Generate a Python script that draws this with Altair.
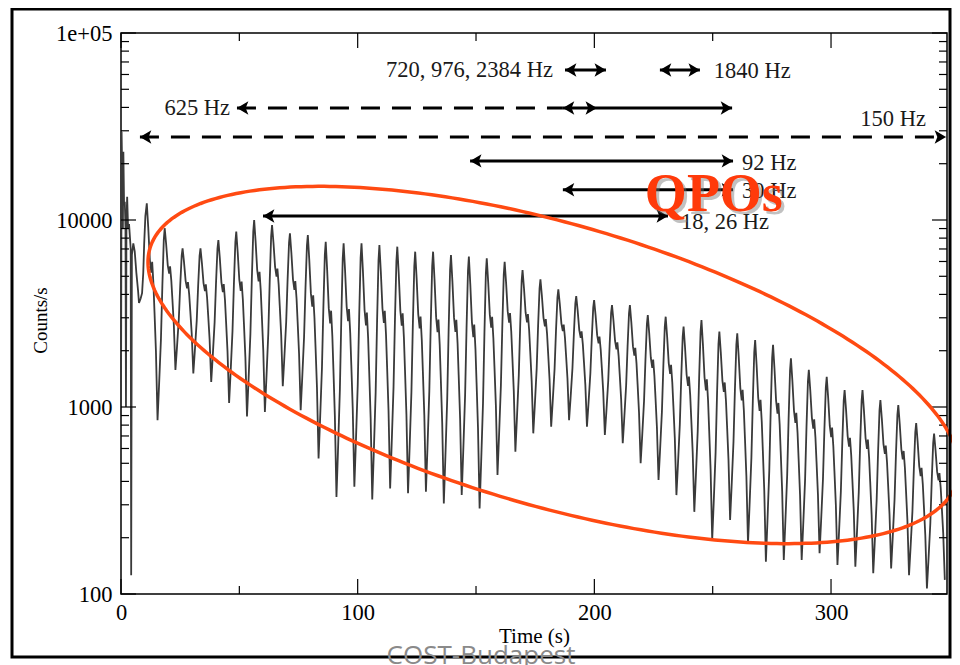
import altair as alt
import pandas as pd
import numpy as np

# ---------------- data ----------------
PERIOD = 7.56          # s, spin period seen in the light curve
FIRST_PEAK = 10.9      # s, first pulse maximum after the initial spike

# initial spike (time s, counts/s)
flare_t = [0.0, 0.25, 0.5, 0.8, 1.0, 1.3, 1.6, 1.9, 2.1, 2.3, 2.6, 3.0, 3.4, 3.8,
           4.1, 4.3, 4.6, 5.2, 5.8, 6.5, 7.2, 7.6, 8.3, 8.9, 9.4, 9.8, 10.3]
flare_c = [900, 29600, 18000, 9000, 23200, 12000, 12500, 9000, 1000, 9500, 13300,
           9000, 9500, 8000, 7000, 126, 6500, 7500, 6800, 5200, 4200, 3600, 3800,
           4060, 5200, 7500, 10500]

# pulse maxima and the minimum following each maximum (counts/s)
peak_counts = [12270, 9040, 7060, 7060, 7820, 8660, 10000, 9400, 8490, 8310,
               7650, 7500, 7500, 7350, 7200, 6770, 6770, 6500, 6370, 6240,
               5980, 5400, 4820, 4260, 3920, 3730, 3510, 3510, 3100, 3040,
               2690, 2920, 2530, 2480, 2280, 2150, 1820, 1580, 1450, 1230,
               1230, 1090, 1025, 820, 720]
trough_counts = [850, 1580, 1510, 1360, 1050, 890, 940, 1290, 960, 530,
                 330, 375, 320, 367, 346, 352, 305, 338, 287, 433,
                 577, 723, 785, 850, 785, 708, 640, 500, 407, 338,
                 275, 195, 249, 187, 149, 152, 152, 165, 143, 140,
                 129, 137, 126, 107, 119]

# pulse profile shape read from one pulse (phase, fraction of the log drop)
fall_phase = [0.08, 0.17, 0.25, 0.30, 0.37, 0.43, 0.51, 0.60]
fall_frac = [0.11, 0.26, 0.32, 0.27, 0.37, 0.50, 0.68, 1.00]
rise_phase = [0.68, 0.79, 0.87, 0.95]
rise_frac = [0.83, 0.58, 0.30, 0.06]

# QPO arrows
shaft_solid = [  # (t1, t2, counts)
    (187.6, 204.9, 63400), (227.7, 244.6, 63400), (186.7, 258.2, 39700),
    (147.5, 258.6, 20700), (186.7, 258.6, 14500), (60.0, 231.1, 10500)]
shaft_dashed = [(49.0, 186.7, 39700), (8.0, 348.6, 27800)]
heads_left = [(187.6, 63400), (227.7, 63400), (49.0, 39700), (186.7, 39700),
              (8.0, 27800), (147.5, 20700), (186.7, 14500), (60.0, 10500)]
heads_right = [(204.9, 63400), (244.6, 63400), (201.1, 39700), (258.2, 39700),
               (348.6, 27800), (258.6, 20700), (258.6, 14500), (231.1, 10500)]
labels_right = [("720, 976, 2384 Hz", 182.5, 63400), ("625 Hz", 46.1, 39700),
                ("150 Hz", 340.1, 34700)]
labels_left = [("1840 Hz", 250.5, 63000), ("92 Hz", 262.4, 20200),
               ("30 Hz", 262.4, 14300), ("18, 26 Hz", 236.6, 9760)]

# highlight ellipse (centre in data units, axes in pixels, tilt in degrees)
ell_t, ell_logc, ell_a, ell_b, ell_tilt = 182.7, 3.2246, 420, 141, 16.1

# axis ticks
x_major = [0, 100, 200, 300]
x_minor = [50, 150, 250]
y_major = [100, 1000, 10000, 100000]
y_minor = [m * d for d in (100, 1000, 10000) for m in range(2, 10)]

# ---------------- layout ----------------
W, H = 826, 561
X_MAX = 349
PX_PER_S = W / X_MAX
PX_PER_DEC = H / 3

# ---------------- build tables ----------------
rows = list(zip(flare_t, flare_c))
n = len(peak_counts)
for k in range(n):
    tk = FIRST_PEAK + PERIOD * k
    lp = np.log10(peak_counts[k])
    lt = np.log10(trough_counts[k])
    rows.append((tk, peak_counts[k]))
    for ph, f in zip(fall_phase, fall_frac):
        rows.append((tk + ph * PERIOD, 10 ** (lp + f * (lt - lp))))
    if k < n - 1:
        ln = np.log10(peak_counts[k + 1])
        for ph, r in zip(rise_phase, rise_frac):
            rows.append((tk + ph * PERIOD, 10 ** (ln + r * (lt - ln))))
curve = pd.DataFrame(rows, columns=["t", "c"])

phi = np.linspace(0, 2 * np.pi, 361)
th = np.radians(ell_tilt)
dx = ell_a * np.cos(phi) * np.cos(th) - ell_b * np.sin(phi) * np.sin(th)
dy = ell_a * np.cos(phi) * np.sin(th) + ell_b * np.sin(phi) * np.cos(th)
ellipse = pd.DataFrame({"i": np.arange(len(phi)),
                        "t": ell_t + dx / PX_PER_S,
                        "c": 10 ** (ell_logc - dy / PX_PER_DEC)})

solid = pd.DataFrame(shaft_solid, columns=["t1", "t2", "c"])
dashed = pd.DataFrame(shaft_dashed, columns=["t1", "t2", "c"])
hl = pd.DataFrame(heads_left, columns=["t", "c"])
hr = pd.DataFrame(heads_right, columns=["t", "c"])
lr = pd.DataFrame(labels_right, columns=["txt", "t", "c"])
ll = pd.DataFrame(labels_left, columns=["txt", "t", "c"])
qpo = pd.DataFrame({"txt": ["QPOs"], "t": [250.5], "c": [11170]})

SERIF = "Liberation Serif"
xscale = alt.Scale(domain=[0, X_MAX], nice=False, zero=False)
yscale = alt.Scale(type="log", domain=[100, 100000], nice=False)
xaxis = alt.Axis(values=x_major, title="Time (s)", ticks=False, tickSize=0,
                 domain=False, grid=False, labelFont=SERIF, labelFontSize=22.5,
                 labelColor="black", labelPadding=7, labelFlush=False,
                 labelOverlap=False, titleFont=SERIF,
                 titleFontSize=21, titleFontWeight="normal", titleColor="black",
                 titleY=42, titleBaseline="middle")
yaxis = alt.Axis(values=y_major, title="Counts/s", ticks=False, tickSize=0,
                 domain=False, grid=False, labelFont=SERIF, labelFontSize=22.5,
                 labelColor="black", labelPadding=9, labelFlush=False,
                 labelOverlap=False,
                 labelExpr="datum.value >= 100000 ? '1e+05' : format(datum.value, 'd')",
                 titleFont=SERIF, titleFontSize=19, titleFontWeight="normal",
                 titleColor="black", titleX=-81, titleY=287, titleAngle=270,
                 titleAlign="center", titleBaseline="middle")


def X(f):
    return alt.X(f, type="quantitative", scale=xscale, axis=xaxis)


def Y(f):
    return alt.Y(f, type="quantitative", scale=yscale, axis=yaxis)


def X2(f):
    return alt.X2(f)


base_curve = alt.Chart(curve).mark_line(color="#3a3a3a", strokeWidth=1.8).encode(
    x=X("t"), y=Y("c"))

# ticks (inward)
df_ym = pd.DataFrame({"c": y_major})
df_yn = pd.DataFrame({"c": y_minor})
df_xm = pd.DataFrame({"t": x_major})
df_xn = pd.DataFrame({"t": x_minor})
tk = dict(color="black", strokeWidth=1.2)
ticks = [
    alt.Chart(df_ym).mark_rule(**tk).encode(y=Y("c"), x=alt.value(0), x2=alt.value(15)),
    alt.Chart(df_yn).mark_rule(**tk).encode(y=Y("c"), x=alt.value(0), x2=alt.value(8)),
    alt.Chart(df_ym).mark_rule(**tk).encode(y=Y("c"), x=alt.value(W), x2=alt.value(W - 15)),
    alt.Chart(df_yn).mark_rule(**tk).encode(y=Y("c"), x=alt.value(W), x2=alt.value(W - 8)),
    alt.Chart(df_xm).mark_rule(**tk).encode(x=X("t"), y=alt.value(H), y2=alt.value(H - 15)),
    alt.Chart(df_xn).mark_rule(**tk).encode(x=X("t"), y=alt.value(H), y2=alt.value(H - 8)),
    alt.Chart(df_xm).mark_rule(**tk).encode(x=X("t"), y=alt.value(0), y2=alt.value(15)),
    alt.Chart(df_xn).mark_rule(**tk).encode(x=X("t"), y=alt.value(0), y2=alt.value(8)),
]

solid_l = alt.Chart(solid).mark_rule(color="black", strokeWidth=3).encode(
    x=X("t1"), x2=X2("t2"), y=Y("c"))
dashed_l = alt.Chart(dashed).mark_rule(color="black", strokeWidth=3,
                                       strokeDash=[19, 12]).encode(
    x=X("t1"), x2=X2("t2"), y=Y("c"))
LEFT = "M0,0L1.7,-1L1.3,0L1.7,1Z"
RIGHT = "M0,0L-1.7,-1L-1.3,0L-1.7,1Z"
hl_l = alt.Chart(hl).mark_point(shape=LEFT, filled=True, color="black", size=180,
                                opacity=1, strokeWidth=0.5).encode(x=X("t"), y=Y("c"))
hr_l = alt.Chart(hr).mark_point(shape=RIGHT, filled=True, color="black", size=180,
                                opacity=1, strokeWidth=0.5).encode(x=X("t"), y=Y("c"))
txt = dict(font=SERIF, fontSize=22.5, color="#1a1a1a", baseline="middle")
lr_l = alt.Chart(lr).mark_text(align="right", **txt).encode(x=X("t"), y=Y("c"), text="txt")
ll_l = alt.Chart(ll).mark_text(align="left", **txt).encode(x=X("t"), y=Y("c"), text="txt")

ell_l = alt.Chart(ellipse).mark_line(color="#FF4A12", strokeWidth=3.5).encode(
    x=X("t"), y=Y("c"), order="i:Q")

qpo_shadow = alt.Chart(qpo).mark_text(font=SERIF, fontSize=54, fontWeight="bold",
                                      color="#777777", opacity=0.45, align="center",
                                      baseline="alphabetic", dx=3, dy=3).encode(
    x=X("t"), y=Y("c"), text="txt")
qpo_l = alt.Chart(qpo).mark_text(font=SERIF, fontSize=54, fontWeight="bold",
                                 color="#FF3A0A", align="center",
                                 baseline="alphabetic").encode(
    x=X("t"), y=Y("c"), text="txt")

one = pd.DataFrame({"a": [0]})
frame = alt.Chart(one).mark_rect(filled=False, stroke="black", strokeWidth=3).encode(
    x=alt.value(-109), x2=alt.value(829), y=alt.value(-24), y2=alt.value(624))
cost = alt.Chart(one).mark_text(font="Open Sans", fontSize=26, color="#8a8a8a",
                                align="center", baseline="alphabetic").encode(
    x=alt.value(360), y=alt.value(631), text=alt.value("COST-Budapest"))

chart = alt.layer(
    base_curve, *ticks, dashed_l, solid_l, hl_l, hr_l, lr_l, ll_l, ell_l,
    qpo_shadow, qpo_l, frame, cost
).properties(
    width=W, height=H,
    autosize=alt.AutoSizeParams(type="none"),
    padding={"left": 113, "top": 25, "right": 5, "bottom": 71},
    background="white",
).configure_view(stroke="black", strokeWidth=1.5)

chart.save("out.html", embed_options={"renderer": "svg", "actions": False})
